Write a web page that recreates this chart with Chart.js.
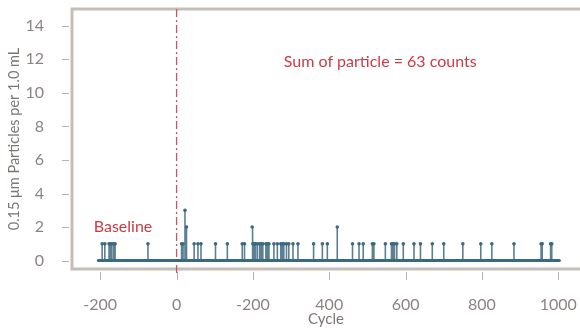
<!DOCTYPE html>
<html>
<head>
<meta charset="utf-8">
<script src="https://cdn.jsdelivr.net/npm/chart.js@4.4.0/dist/chart.umd.min.js"></script>
<style>
  html, body { margin: 0; padding: 0; background: #fff; overflow: hidden; }
  #wrap { width: 580px; height: 329px; }
</style>
</head>
<body>
<div id="wrap"><canvas id="particleChart" width="580" height="329"></canvas></div>
<script>
// cycles where the counter registered particles, and how many
const spikeCycles = [-195, -188, -177, -174, -170, -165, -161, -75,
  13, 17, 22, 26, 46, 56, 64, 102, 133, 172, 178, 198, 200, 203, 207, 212,
  218, 222, 226, 234, 238, 242, 255, 264, 273, 277, 281, 288, 294, 305, 318,
  359, 382, 395, 421, 461, 478, 489, 513, 517, 547, 563, 567, 571, 577, 594,
  622, 639, 670, 700, 750, 797, 826, 884, 955, 958, 980, 983];
const spikeCounts = [1, 1, 1, 1, 1, 1, 1, 1,
  1, 1, 3, 2, 1, 1, 1, 1, 1, 1, 1, 2, 1, 1, 1, 1,
  1, 1, 1, 1, 1, 1, 1, 1, 1, 1, 1, 1, 1, 1, 1,
  1, 1, 1, 2, 1, 1, 1, 1, 1, 1, 1, 1, 1, 1, 1,
  1, 1, 1, 1, 1, 1, 1, 1, 1, 1, 1, 1];
const traceStart = -205;
const traceEnd = 1003;

const xTickValues = [-200, 0, 200, 400, 600, 800, 1000];
const xTickLabels = ['-200', '0', '-200', '400', '600', '800', '1000'];
const yTickValues = [0, 2, 4, 6, 8, 10, 12, 14];

const sumText = 'Sum of particle = 63 counts';
const baselineText = 'Baseline';

// build the stem trace: flat at zero, jumping up at each hit
const trace = [{ x: traceStart, y: 0 }];
spikeCycles.forEach((c, i) => {
  trace.push({ x: c, y: 0 }, { x: c, y: spikeCounts[i] }, { x: c, y: 0 });
});
trace.push({ x: traceEnd, y: 0 });

const FRAME = '#c5bdb6';
const TEXT = '#8b8480';
const RED = '#cc3a45';
const FONT = 'Lato, "Open Sans", sans-serif';

const framePlugin = {
  id: 'frame',
  beforeDatasetsDraw(chart) {
    const { ctx, chartArea: a, scales } = chart;
    ctx.save();
    ctx.strokeStyle = FRAME;
    ctx.lineWidth = 3;
    ctx.beginPath();
    ctx.moveTo(chart.width + 5, a.top);
    ctx.lineTo(a.left, a.top);
    ctx.lineTo(a.left, a.bottom);
    ctx.lineTo(chart.width + 5, a.bottom);
    ctx.stroke();

    // tick marks, set slightly off the frame
    ctx.lineWidth = 1;
    ctx.strokeStyle = '#b9b1ab';
    ctx.beginPath();
    yTickValues.forEach(v => {
      const y = Math.round(scales.y.getPixelForValue(v)) + 0.5;
      ctx.moveTo(a.left - 10, y);
      ctx.lineTo(a.left - 3, y);
    });
    xTickValues.forEach(v => {
      const x = Math.round(scales.x.getPixelForValue(v)) + 0.5;
      ctx.moveTo(x, a.bottom + 3);
      ctx.lineTo(x, a.bottom + 11);
    });
    ctx.stroke();

    // start-of-test marker at cycle 0
    const x0 = scales.x.getPixelForValue(0);
    ctx.strokeStyle = '#d6505b';
    ctx.lineWidth = 1.3;
    ctx.setLineDash([8, 3, 2, 3]);
    ctx.beginPath();
    ctx.moveTo(x0, a.top);
    ctx.lineTo(x0, a.bottom + 4);
    ctx.stroke();
    ctx.restore();
  },
  afterDraw(chart) {
    const { ctx, scales } = chart;
    ctx.save();
    ctx.fillStyle = RED;
    ctx.font = '16px ' + FONT;
    ctx.textAlign = 'left';
    ctx.textBaseline = 'middle';
    ctx.fillText(sumText, scales.x.getPixelForValue(281), scales.y.getPixelForValue(11.86));
    ctx.fillText(baselineText, scales.x.getPixelForValue(-217), scales.y.getPixelForValue(2));
    ctx.restore();
  }
};

new Chart(document.getElementById('particleChart'), {
  type: 'line',
  data: {
    datasets: [{
      label: 'Zero line',
      data: [{ x: traceStart, y: 0 }, { x: traceEnd, y: 0 }],
      borderColor: '#3c6880',
      borderWidth: 3,
      borderCapStyle: 'round',
      pointRadius: 0
    }, {
      label: 'Particles',
      data: trace,
      borderColor: 'rgba(50, 96, 122, 0.8)',
      borderWidth: 1.6,
      pointRadius: c => (c.raw && c.raw.y > 0 ? 1.8 : 0),
      pointBackgroundColor: '#3c6880',
      pointBorderWidth: 0,
      tension: 0
    }]
  },
  options: {
    responsive: false,
    animation: false,
    layout: { padding: { top: 9, right: 0, left: 0, bottom: 0 } },
    plugins: { legend: { display: false }, tooltip: { enabled: false } },
    scales: {
      x: {
        type: 'linear',
        min: -274,
        max: 1057,
        afterFit: s => { s.height = 60; s.paddingLeft = 0; s.paddingRight = 0; },
        afterBuildTicks: s => { s.ticks = xTickValues.map(v => ({ value: v })); },
        grid: { display: false },
        border: { display: false },
        ticks: {
          color: TEXT,
          font: { family: FONT, size: 16 },
          padding: 18,
          maxRotation: 0,
          callback: v => xTickLabels[xTickValues.indexOf(v)]
        },
        title: {
          display: true,
          text: 'Cycle',
          color: '#7d7672',
          font: { family: FONT, size: 15 },
          padding: { top: 0, bottom: 1 }
        }
      },
      y: {
        min: -0.5,
        max: 15,
        afterFit: s => { s.width = 72; s.paddingTop = 0; s.paddingBottom = 0; },
        afterBuildTicks: s => { s.ticks = yTickValues.map(v => ({ value: v })); },
        grid: { display: false },
        border: { display: false },
        ticks: {
          color: TEXT,
          font: { family: FONT, size: 16 },
          padding: 20
        },
        title: {
          display: true,
          text: '0.15 μm Particles per 1.0 mL',
          color: '#7d7672',
          font: { family: FONT, size: 14.5 },
          padding: { top: 6, bottom: 0 }
        }
      }
    }
  },
  plugins: [framePlugin]
});
</script>
</body>
</html>
